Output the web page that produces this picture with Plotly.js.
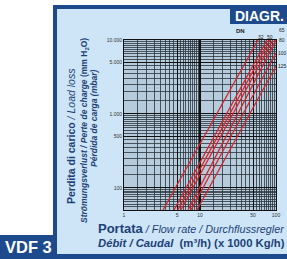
<!DOCTYPE html>
<html><head><meta charset="utf-8">
<script src="https://cdn.plot.ly/plotly-3.0.1.min.js"></script>
<style>html,body{margin:0;padding:0;background:#fff}#c{width:287px;height:259px}</style>
</head><body><div id="c"></div>
<script>
// DN series (pressure drop lines)
const dnLabels = ["32","40","50","65","80","100","125"];
const flowLow  = [3.26, 4.55, 5.1, 5.6, 6.95, 7.6, 9.1];
const flowHigh = [58, 76, 83, 91, 100, 100, 100];
const lossLow  = [50, 50, 50, 50, 50, 50, 50];
const lossHigh = [10000, 10000, 10000, 10000, 10000, 6670, 4450];

const xTickVals = [1,5,10,50,100];
const xTickText = ["1","5","10","50","100"];
const yTickVals = [100,500,1000,5000,10000];
const yTickText = ["100","500","1.000","5.000","10.000"];

const W=287,H=259;
const px = v=>v/W, py = v=>1-v/H;
const NAVY="#1c4a8c", LIGHT="#cde5f6", PLOTBG="#b6ccdd", TXT="#1d3f78";
const FONT="Liberation Sans, Arial, sans-serif";

function gridVals(lo, hi, lim){ const a=[]; for(let d=lo; d<hi; d*=10){ for(let k=1;k<10;k++){ a.push(k*d); a.push((k+0.5)*d);} } a.push(hi); return a.filter(v=>v>=lim && v<=hi); }

const traces = dnLabels.map((n,i)=>({
  type:"scatter", mode:"lines", name:"DN "+n,
  x:[flowLow[i], flowHigh[i]], y:[lossLow[i], lossHigh[i]],
  line:{color:"#d8232a", width:1.3}, hoverinfo:"skip"
}));

const shapes = [
  {type:"rect", xref:"paper", yref:"paper", x0:px(53), x1:1, y0:0, y1:py(5), fillcolor:NAVY, line:{width:0}, layer:"below"},
  {type:"rect", xref:"paper", yref:"paper", x0:px(57), x1:1, y0:py(254), y1:py(9), fillcolor:LIGHT, line:{width:0}, layer:"below"},
  {type:"rect", xref:"paper", yref:"paper", x0:px(230), x1:1, y0:py(24), y1:py(9), fillcolor:NAVY, line:{width:0}, layer:"below"},
  {type:"rect", xref:"paper", yref:"paper", x0:0, x1:px(57), y0:0, y1:py(235), fillcolor:NAVY, line:{width:0}, layer:"below"},
  {type:"rect", xref:"paper", yref:"paper", x0:px(124), x1:px(276), y0:py(210), y1:py(40), fillcolor:PLOTBG, line:{width:0}, layer:"below"}
];

const ann = [
  {text:"<b>DIAGR.</b>", x:px(259), y:py(16.5), font:{family:FONT, size:14, color:"#fff"}},
  {text:"<b>VDF 3</b>", x:px(28), y:py(247), font:{family:FONT, size:16.5, color:"#fff"}},
  {text:"<b>Perdita di carico</b><i> / Load loss</i>", x:px(71), y:py(136), textangle:-90, font:{family:FONT, size:10.5, color:TXT}},
  {text:"<b><i>Strömungsverlust / Perte de charge</i> (mm H<sub>2</sub>O)</b>", x:px(84), y:py(131), textangle:-90, font:{family:FONT, size:8.5, color:TXT}},
  {text:"<b><i>Pérdida de carga (mbar)</i></b>", x:px(94), y:py(118), textangle:-90, font:{family:FONT, size:8.5, color:TXT}},
  {text:"<b><span style='font-size:13px'>Portata</span></b><i> / Flow rate / Durchflussregler</i>", x:px(96), y:py(228), xanchor:"left", font:{family:FONT, size:10.8, color:TXT}},
  {text:"<b><i>Débit / Caudal</i>  (m³/h) (x 1000 Kg/h)</b>", x:px(96), y:py(243), xanchor:"left", font:{family:FONT, size:11.3, color:TXT}},
  {text:"<b>DN</b>", x:px(240), y:py(31), font:{family:FONT, size:6, color:"#222"}},
  {text:"32", x:px(261), y:py(37), font:{family:FONT, size:5, color:"#222"}},
  {text:"50", x:px(270), y:py(37), font:{family:FONT, size:5, color:"#222"}},
  {text:"65", x:px(282), y:py(30), font:{family:FONT, size:5, color:"#222"}},
  {text:"80", x:px(282), y:py(40), font:{family:FONT, size:5, color:"#222"}},
  {text:"100", x:px(282), y:py(53), font:{family:FONT, size:5, color:"#222"}},
  {text:"125", x:px(282), y:py(66), font:{family:FONT, size:5, color:"#222"}}
].map(a=>Object.assign({xref:"paper", yref:"paper", showarrow:false, xanchor:"center", yanchor:"middle"}, a));

const layout = {
  width:W, height:H, margin:{l:0,r:0,t:0,b:0}, paper_bgcolor:"#fff", plot_bgcolor:"rgba(0,0,0,0)",
  showlegend:false,
  xaxis:{type:"log", range:[0,2], domain:[124/W, 276/W], tickmode:"array", tickvals:xTickVals, ticktext:xTickText,
    tickfont:{size:5, color:"#333", family:FONT}, ticks:"", showgrid:true, gridcolor:"#111", gridwidth:1.2,
    minor:{tickmode:"array", tickvals:gridVals(1,100,1).filter(v=>!xTickVals.includes(v)), showgrid:true, gridcolor:"#2c343c", gridwidth:0.8, ticks:""},
    showline:true, linecolor:"#111", linewidth:1, mirror:true, zeroline:false, fixedrange:true},
  yaxis:{type:"log", range:[Math.log10(50),4], domain:[1-210/H, 1-40/H], tickmode:"array", tickvals:yTickVals, ticktext:yTickText,
    tickfont:{size:5, color:"#333", family:FONT}, ticks:"", showgrid:true, gridcolor:"#111", gridwidth:1.2,
    minor:{tickmode:"array", tickvals:gridVals(10,10000,55).filter(v=>!yTickVals.includes(v)), showgrid:true, gridcolor:"#2c343c", gridwidth:0.8, ticks:""},
    showline:true, linecolor:"#111", linewidth:1, mirror:true, zeroline:false, fixedrange:true},
  shapes:shapes, annotations:ann
};
Plotly.newPlot("c", traces, layout, {displayModeBar:false, staticPlot:true});
</script></body></html>
